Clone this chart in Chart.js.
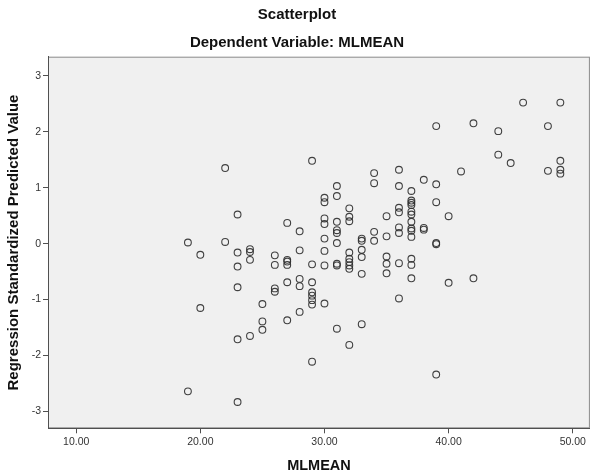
<!DOCTYPE html>
<html>
<head>
<meta charset="utf-8">
<script src="https://cdn.jsdelivr.net/npm/chart.js@4.4.1/dist/chart.umd.min.js"></script>
<style>
  html, body { margin: 0; padding: 0; background: #fff; }
  #c { display: block; }
</style>
</head>
<body>
<canvas id="c" width="595" height="475"></canvas>
<script>
// MLMEAN (x) and regression standardized predicted value (y)
const mlmean = [
  19, 19,
  20, 20,
  22, 22,
  23, 23, 23, 23, 23, 23,
  24, 24, 24, 24,
  25, 25, 25,
  26, 26, 26, 26,
  27, 27, 27, 27, 27, 27,
  28, 28, 28, 28, 28,
  29, 29, 29, 29, 29, 29, 29, 29,
  30, 30, 30, 30, 30, 30, 30, 30,
  31, 31, 31, 31, 31, 31, 31, 31, 31,
  32, 32, 32, 32, 32, 32, 32, 32, 32,
  33, 33, 33, 33, 33, 33,
  34, 34, 34, 34,
  35, 35, 35, 35, 35,
  36, 36, 36, 36, 36, 36, 36, 36,
  37, 37, 37, 37, 37, 37, 37, 37, 37, 37, 37, 37, 37,
  38, 38, 38,
  39, 39, 39, 39, 39, 39,
  40, 40,
  41,
  42, 42,
  44, 44,
  45,
  46,
  48, 48,
  49, 49, 49, 49
];
const predicted = [
  0.02, -2.64,
  -0.20, -1.15,
  1.35, 0.03,
  0.52, -0.16, -0.41, -0.78, -1.71, -2.83,
  -0.10, -0.15, -0.29, -1.65,
  -1.08, -1.39, -1.54,
  -0.21, -0.38, -0.80, -0.86,
  0.37, -0.29, -0.32, -0.38, -0.69, -1.37,
  0.22, -0.12, -0.63, -0.76, -1.22,
  1.48, -0.37, -0.69, -0.87, -0.93, -1.01, -1.09, -2.11,
  0.82, 0.74, 0.45, 0.35, 0.09, -0.13, -0.39, -1.07,
  1.03, 0.85, 0.39, 0.24, 0.19, 0.01, -0.36, -0.39, -1.52,
  0.63, 0.48, 0.40, -0.16, -0.27, -0.33, -0.39, -0.45, -1.81,
  0.09, 0.05, -0.11, -0.24, -0.54, -1.44,
  1.26, 1.08, 0.21, 0.05,
  0.49, 0.13, -0.23, -0.36, -0.53,
  1.32, 1.03, 0.64, 0.56, 0.29, 0.19, -0.35, -0.98,
  0.94, 0.77, 0.73, 0.69, 0.57, 0.52, 0.39, 0.27, 0.23, 0.12, -0.27, -0.38, -0.62,
  1.14, 0.28, 0.25,
  2.10, 1.06, 0.74, 0.01, -0.01, -2.34,
  0.49, -0.70,
  1.29,
  2.15, -0.62,
  2.01, 1.59,
  1.44,
  2.52,
  2.10, 1.30,
  2.52, 1.48, 1.32, 1.25
];
const xTicks = [10, 20, 30, 40, 50];
const yTicks = [-3, -2, -1, 0, 1, 2, 3];

const FONT = "'Liberation Sans', Arial, sans-serif";
const points = mlmean.map((x, i) => ({ x: x, y: predicted[i] }));

// grey plot area with a thin frame, like SPSS
const plotBox = {
  id: 'plotBox',
  beforeDraw(chart) {
    const a = chart.chartArea;
    const ctx = chart.ctx;
    ctx.save();
    ctx.fillStyle = '#f0f0f0';
    ctx.fillRect(a.left, a.top, a.right - a.left, a.bottom - a.top);
    ctx.strokeStyle = '#8c8c8c';
    ctx.lineWidth = 1;
    ctx.strokeRect(a.left + 0.5, a.top + 0.5, a.right - a.left - 1, a.bottom - a.top - 1);
    ctx.restore();
  }
};

new Chart(document.getElementById('c'), {
  type: 'scatter',
  data: {
    datasets: [{
      data: points,
      pointStyle: 'circle',
      pointRadius: 3.4,
      pointBorderWidth: 1.1,
      pointBorderColor: 'rgba(45,45,45,0.9)',
      pointBackgroundColor: 'rgba(0,0,0,0)'
    }]
  },
  options: {
    responsive: false,
    animation: false,
    events: [],
    layout: { padding: { left: 0, right: 1, top: 0, bottom: 0 } },
    plugins: {
      legend: { display: false },
      tooltip: { enabled: false },
      title: {
        display: true,
        text: 'Scatterplot',
        color: '#111',
        font: { family: FONT, size: 15, weight: 'bold' },
        padding: { top: 6, bottom: 0 }
      },
      subtitle: {
        display: true,
        text: 'Dependent Variable: MLMEAN',
        color: '#111',
        font: { family: FONT, size: 15, weight: 'bold' },
        padding: { top: 10, bottom: 4.7 }
      }
    },
    scales: {
      x: {
        type: 'linear',
        min: 7.73,
        max: 51.38,
        afterFit(s) { s.height = 46.7; },
        afterBuildTicks(s) { s.ticks = xTicks.map(v => ({ value: v })); },
        grid: { drawOnChartArea: false, drawTicks: true, tickLength: 5, color: '#505050' },
        border: { display: true, color: '#505050', width: 1 },
        ticks: {
          color: '#333',
          padding: 3,
          maxRotation: 0,
          font: { family: FONT, size: 10.5 },
          callback: v => v.toFixed(2)
        },
        title: {
          display: true,
          text: 'MLMEAN',
          color: '#111',
          font: { family: FONT, size: 14.5, weight: 'bold' },
          padding: { top: 0, bottom: 0.3 }
        }
      },
      y: {
        type: 'linear',
        min: -3.30,
        max: 3.34,
        afterFit(s) { s.width = 48; },
        afterBuildTicks(s) { s.ticks = yTicks.map(v => ({ value: v })); },
        grid: { drawOnChartArea: false, drawTicks: true, tickLength: 5, color: '#505050' },
        border: { display: true, color: '#505050', width: 1 },
        ticks: {
          color: '#333',
          padding: 2,
          font: { family: FONT, size: 10.5 },
          callback: v => String(v)
        },
        title: {
          display: true,
          text: 'Regression Standardized Predicted Value',
          color: '#111',
          font: { family: FONT, size: 15, weight: 'bold' },
          padding: { top: 4.5, bottom: 0 }
        }
      }
    }
  },
  plugins: [plotBox]
});
</script>
</body>
</html>
